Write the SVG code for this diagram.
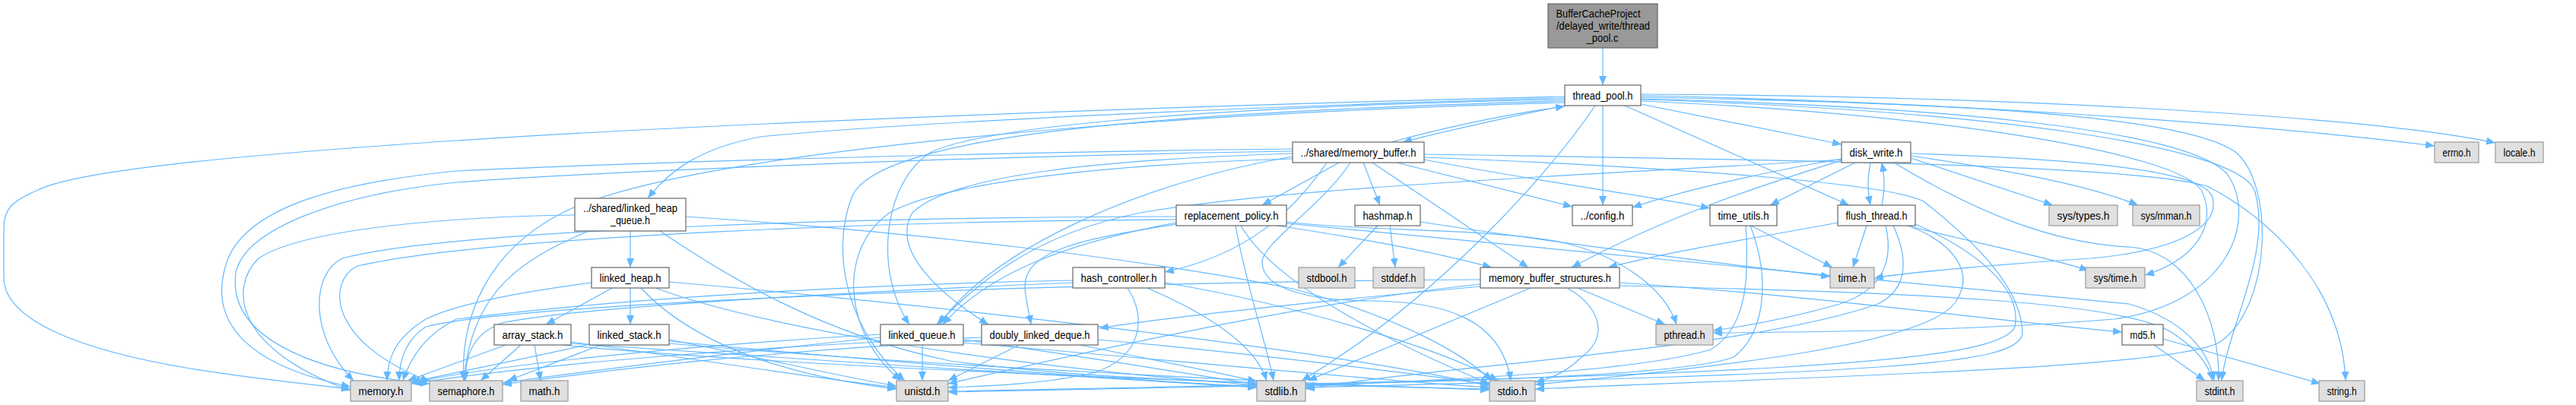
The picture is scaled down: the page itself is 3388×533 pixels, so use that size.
<svg xmlns="http://www.w3.org/2000/svg" width="3388" height="533" viewBox="0 0 3388 533">
<style>
.e{fill:none;stroke:#63b8ff;stroke-width:1.2;marker-end:url(#ah)}
.w{fill:#ffffff;stroke:#666666;stroke-width:1.2}
.g{fill:#e0e0e0;stroke:#999999;stroke-width:1.2}
.r{fill:#999999;stroke:#666666;stroke-width:1.2}
text{font-family:"Liberation Sans",Arial,sans-serif;font-size:14px;fill:#000;text-anchor:middle}
</style>
<defs>
<marker id="ah" viewBox="0 0 12 10" refX="12" refY="5" markerWidth="12" markerHeight="10" markerUnits="userSpaceOnUse" orient="auto"><path d="M0,0 L12,5 L0,10 z" fill="#63b8ff"/></marker>
</defs>
<rect width="3388" height="533" fill="#ffffff"/>
<g id="edges">
<path class="e" d="M2108,63 L2108,112"/>
<path class="e" d="M2062,138 C1990,153 1910,170 1845,187"/>
<path class="e" d="M1830,187 C1900,168 1985,150 2058,140"/>
<path class="e" d="M2108,139 L2108,270"/>
<path class="e" d="M2158,137 L2422,190"/>
<path class="e" d="M2137,139 L2432,270"/>
<path class="e" d="M2098,139 C2030,240 1880,400 1712,501"/>
<path class="e" d="M2158,126 C2500,132 2950,160 3202,192"/>
<path class="e" d="M2158,124 C2600,126 3100,150 3282,188"/>
<path class="e" d="M2058,127 C1500,140 900,165 600,185 C300,205 100,225 50,250 C15,265 5,275 5,300 L5,365 C5,420 100,460 250,485 C330,498 400,505 461,512"/>
<path class="e" d="M2058,129 C1700,138 1200,160 1000,180 C920,195 880,225 852,261"/>
<path class="e" d="M2058,131 C1600,140 1300,165 1225,200 C1160,240 1150,360 1196,427"/>
<path class="e" d="M2058,133 C1500,148 1150,180 1120,260 C1090,340 1120,440 1190,501"/>
<path class="e" d="M2058,135 C1500,150 900,200 740,280 C640,330 605,420 610,501"/>
<path class="e" d="M2158,128 C2550,135 2870,150 2940,200 C2990,240 2990,400 2920,450 C2860,485 2400,495 2019,512"/>
<path class="e" d="M2158,130 C2550,140 2880,170 2930,230 C2970,290 2930,400 2780,420 C2600,435 2400,437 2253,438"/>
<path class="e" d="M2158,131 C2600,145 2940,190 2965,250 C2990,330 2930,430 2922,501"/>
<path class="e" d="M2158,133 C2550,150 2860,200 2895,250 C2920,300 2880,345 2821,362"/>
<path class="e" d="M1761,214 L1660,270"/>
<path class="e" d="M1793,214 L1815,270"/>
<path class="e" d="M1805,214 L2010,352"/>
<path class="e" d="M1837,214 L2068,272"/>
<path class="e" d="M1873,210 C2000,235 2150,255 2249,274"/>
<path class="e" d="M1745,214 C1700,280 1640,335 1532,358"/>
<path class="e" d="M1700,206 C1500,240 1300,330 1236,427"/>
<path class="e" d="M1776,214 C1740,270 1660,320 1660,345 C1660,380 1720,395 1800,396 C1900,396 1975,420 1987,501"/>
<path class="e" d="M1700,196 C1300,200 800,215 600,225 C450,240 330,270 300,340 C270,420 320,480 461,509"/>
<path class="e" d="M1700,199 C1300,205 800,225 600,240 C450,255 320,300 310,360 C300,440 400,490 565,505"/>
<path class="e" d="M1700,209 C1500,215 1250,235 1170,280 C1100,330 1110,440 1185,501"/>
<path class="e" d="M1873,203 C2300,210 2800,215 2903,245 C2990,290 3080,380 3085,501"/>
<path class="e" d="M1873,207 C2200,220 2480,240 2530,265 C2600,320 2660,380 2660,440 C2650,480 2500,490 1717,510"/>
<path class="e" d="M1700,202 C1450,210 1250,230 1200,280 C1170,330 1240,390 1300,427"/>
<path class="e" d="M2460,214 C2456,235 2456,250 2460,270"/>
<path class="e" d="M2475,270 C2479,250 2479,235 2475,214"/>
<path class="e" d="M2440,214 L2328,270"/>
<path class="e" d="M2422,209 C2300,230 2200,255 2147,273"/>
<path class="e" d="M2422,211 C2330,240 2200,280 2067,352"/>
<path class="e" d="M2513,208 L2700,270"/>
<path class="e" d="M2513,205 C2650,225 2750,245 2812,270"/>
<path class="e" d="M2513,202 C2750,210 2900,225 2910,260 C2920,300 2860,330 2750,340 C2600,350 2500,360 2465,366"/>
<path class="e" d="M2422,210 C2100,230 1700,245 1500,280 C1350,310 1280,380 1232,427"/>
<path class="e" d="M2491,214 C2600,280 2700,320 2800,325 C2880,330 2920,420 2918,501"/>
<path class="e" d="M2455,297 L2437,352"/>
<path class="e" d="M2508,297 C2600,320 2700,340 2747,356"/>
<path class="e" d="M2480,297 C2490,340 2480,380 2420,400 C2350,420 2290,430 2253,435"/>
<path class="e" d="M2490,297 C2510,340 2510,380 2470,400 C2300,460 1900,480 1717,512"/>
<path class="e" d="M2510,297 C2570,320 2600,360 2570,400 C2530,450 2300,480 2019,506"/>
<path class="e" d="M2519,295 C2600,330 2660,380 2650,430 C2630,480 2300,495 1247,515"/>
<path class="e" d="M2417,293 C2300,315 2200,330 2115,352"/>
<path class="e" d="M2303,297 L2410,352"/>
<path class="e" d="M2296,297 C2300,360 2300,430 2250,460 C2150,490 1900,500 1717,508"/>
<path class="e" d="M2302,297 C2330,370 2320,440 2280,470 C2200,500 1800,505 1247,516"/>
<path class="e" d="M1812,297 L1760,352"/>
<path class="e" d="M1828,297 L1835,352"/>
<path class="e" d="M1868,292 C2050,320 2250,345 2407,364"/>
<path class="e" d="M1680,297 C1800,315 1900,335 1962,352"/>
<path class="e" d="M1547,295 C1420,315 1345,330 1348,380 C1350,400 1354,415 1356,427"/>
<path class="e" d="M1547,293 C1400,320 1300,360 1240,427"/>
<path class="e" d="M1625,297 C1640,380 1665,450 1675,501"/>
<path class="e" d="M1632,297 C1680,380 1850,460 1959,505"/>
<path class="e" d="M1692,292 C1800,305 1950,300 2050,318 C2130,335 2190,380 2205,427"/>
<path class="e" d="M1692,294 C2100,330 2500,370 2800,400 C2870,420 2905,460 2912,501"/>
<path class="e" d="M1547,285 C1200,285 600,300 450,340 C410,360 405,440 465,501"/>
<path class="e" d="M1547,289 C1200,290 650,310 470,350 C430,370 430,450 565,502"/>
<path class="e" d="M829,304 L829,352"/>
<path class="e" d="M774,304 C690,340 620,380 610,501"/>
<path class="e" d="M756,283 C600,285 400,300 340,340 C300,380 310,460 461,514"/>
<path class="e" d="M868,304 C950,360 1080,440 1250,475 C1400,495 1550,500 1653,504"/>
<path class="e" d="M902,285 C1200,305 1500,340 1700,380 C1850,420 1930,470 1962,501"/>
<path class="e" d="M805,379 L718,427"/>
<path class="e" d="M829,379 L829,427"/>
<path class="e" d="M778,372 C680,385 600,400 560,420 C520,445 510,470 509,501"/>
<path class="e" d="M843,379 C900,440 1000,490 1179,512"/>
<path class="e" d="M862,379 C1000,430 1300,480 1653,507"/>
<path class="e" d="M880,371 C1100,390 1700,450 1959,508"/>
<path class="e" d="M665,454 L536,501"/>
<path class="e" d="M685,454 L632,501"/>
<path class="e" d="M703,454 L711,501"/>
<path class="e" d="M751,450 C900,470 1050,495 1179,510"/>
<path class="e" d="M751,452 C1000,470 1400,495 1653,510"/>
<path class="e" d="M740,454 C1000,480 1600,505 1959,512"/>
<path class="e" d="M790,454 L668,501"/>
<path class="e" d="M780,452 C700,470 600,490 541,503"/>
<path class="e" d="M880,447 C1000,470 1100,495 1179,508"/>
<path class="e" d="M880,449 C1100,470 1400,495 1653,509"/>
<path class="e" d="M880,452 C1200,480 1700,505 1959,513"/>
<path class="e" d="M1213,454 L1213,501"/>
<path class="e" d="M1158,440 C900,455 650,480 541,504"/>
<path class="e" d="M1158,444 C1000,460 800,485 661,504"/>
<path class="e" d="M1267,447 C1400,465 1550,490 1653,506"/>
<path class="e" d="M1267,451 C1500,470 1800,500 1959,510"/>
<path class="e" d="M1340,454 L1247,501"/>
<path class="e" d="M1420,454 C1500,470 1600,490 1653,502"/>
<path class="e" d="M1444,447 C1600,460 1850,490 1959,506"/>
<path class="e" d="M1291,444 C1000,455 700,480 541,505"/>
<path class="e" d="M1291,448 C1000,462 800,487 661,506"/>
<path class="e" d="M1483,379 C1510,420 1500,470 1440,490 C1380,505 1300,508 1247,510"/>
<path class="e" d="M1509,379 C1580,410 1650,450 1666,501"/>
<path class="e" d="M1532,372 C1700,400 1900,460 1970,501"/>
<path class="e" d="M1411,369 C1100,375 800,395 600,420 C560,440 540,470 530,501"/>
<path class="e" d="M1411,372 C1100,385 750,405 660,425 C620,440 612,470 612,501"/>
<path class="e" d="M2075,379 L2190,427"/>
<path class="e" d="M2061,379 C2100,400 2120,440 2080,470 C2060,490 2040,498 2019,503"/>
<path class="e" d="M2013,379 L1720,501"/>
<path class="e" d="M1947,374 C1700,400 1400,470 1247,505"/>
<path class="e" d="M2130,372 C2400,390 2600,420 2791,437"/>
<path class="e" d="M2130,376 C2500,385 2800,395 2860,440 C2890,460 2905,480 2910,501"/>
<path class="e" d="M1947,377 C1750,395 1550,415 1446,432"/>
<path class="e" d="M1947,368 C1500,370 700,395 560,430 C530,450 525,480 525,501"/>
<path class="e" d="M2833,454 L2900,501"/>
<path class="e" d="M2845,446 L3052,505"/>
</g>
<g id="n_root"><rect class="r" x="2036" y="5" width="144" height="58"/><text x="2102" y="23" textLength="111" lengthAdjust="spacingAndGlyphs">BufferCacheProject</text><text x="2108.5" y="39" textLength="123" lengthAdjust="spacingAndGlyphs">/delayed_write/thread</text><text x="2107.5" y="55" textLength="42" lengthAdjust="spacingAndGlyphs">_pool.c</text></g>
<g id="n_thread_pool"><rect class="w" x="2058" y="112" width="100" height="27"/><text x="2108" y="130.5" textLength="79" lengthAdjust="spacingAndGlyphs">thread_pool.h</text></g>
<g id="n_memory_buffer"><rect class="w" x="1700" y="187" width="173" height="27"/><text x="1786.5" y="205.5" textLength="152" lengthAdjust="spacingAndGlyphs">../shared/memory_buffer.h</text></g>
<g id="n_disk_write"><rect class="w" x="2422" y="187" width="91" height="27"/><text x="2467.5" y="205.5" textLength="70" lengthAdjust="spacingAndGlyphs">disk_write.h</text></g>
<g id="n_errno"><rect class="g" x="3202" y="187" width="58" height="27"/><text x="3231" y="205.5" textLength="37" lengthAdjust="spacingAndGlyphs">errno.h</text></g>
<g id="n_locale"><rect class="g" x="3282" y="187" width="63" height="27"/><text x="3313.5" y="205.5" textLength="42" lengthAdjust="spacingAndGlyphs">locale.h</text></g>
<g id="n_linked_heap_queue"><rect class="w" x="756" y="261" width="146" height="43"/><text x="829" y="279" textLength="124" lengthAdjust="spacingAndGlyphs">../shared/linked_heap</text><text x="829" y="295" textLength="52" lengthAdjust="spacingAndGlyphs">_queue.h</text></g>
<g id="n_replacement_policy"><rect class="w" x="1547" y="270" width="145" height="27"/><text x="1619.5" y="288.5" textLength="124" lengthAdjust="spacingAndGlyphs">replacement_policy.h</text></g>
<g id="n_hashmap"><rect class="w" x="1782" y="270" width="86" height="27"/><text x="1825" y="288.5" textLength="65" lengthAdjust="spacingAndGlyphs">hashmap.h</text></g>
<g id="n_config"><rect class="w" x="2068" y="270" width="79" height="27"/><text x="2107.5" y="288.5" textLength="58" lengthAdjust="spacingAndGlyphs">../config.h</text></g>
<g id="n_time_utils"><rect class="w" x="2249" y="270" width="88" height="27"/><text x="2293" y="288.5" textLength="67" lengthAdjust="spacingAndGlyphs">time_utils.h</text></g>
<g id="n_flush_thread"><rect class="w" x="2417" y="270" width="102" height="27"/><text x="2468" y="288.5" textLength="81" lengthAdjust="spacingAndGlyphs">flush_thread.h</text></g>
<g id="n_sys_types"><rect class="g" x="2695" y="270" width="90" height="27"/><text x="2740" y="288.5" textLength="69" lengthAdjust="spacingAndGlyphs">sys/types.h</text></g>
<g id="n_sys_mman"><rect class="g" x="2805" y="270" width="88" height="27"/><text x="2849" y="288.5" textLength="67" lengthAdjust="spacingAndGlyphs">sys/mman.h</text></g>
<g id="n_linked_heap"><rect class="w" x="778" y="352" width="102" height="27"/><text x="829" y="370.5" textLength="81" lengthAdjust="spacingAndGlyphs">linked_heap.h</text></g>
<g id="n_hash_controller"><rect class="w" x="1411" y="352" width="121" height="27"/><text x="1471.5" y="370.5" textLength="100" lengthAdjust="spacingAndGlyphs">hash_controller.h</text></g>
<g id="n_stdbool"><rect class="g" x="1708" y="352" width="74" height="27"/><text x="1745" y="370.5" textLength="53" lengthAdjust="spacingAndGlyphs">stdbool.h</text></g>
<g id="n_stddef"><rect class="g" x="1806" y="352" width="67" height="27"/><text x="1839.5" y="370.5" textLength="46" lengthAdjust="spacingAndGlyphs">stddef.h</text></g>
<g id="n_memory_buffer_structures"><rect class="w" x="1947" y="352" width="183" height="27"/><text x="2038.5" y="370.5" textLength="161" lengthAdjust="spacingAndGlyphs">memory_buffer_structures.h</text></g>
<g id="n_time"><rect class="g" x="2407" y="352" width="58" height="27"/><text x="2436" y="370.5" textLength="37" lengthAdjust="spacingAndGlyphs">time.h</text></g>
<g id="n_sys_time"><rect class="g" x="2743" y="352" width="78" height="27"/><text x="2782" y="370.5" textLength="57" lengthAdjust="spacingAndGlyphs">sys/time.h</text></g>
<g id="n_array_stack"><rect class="w" x="650" y="427" width="101" height="27"/><text x="700.5" y="445.5" textLength="80" lengthAdjust="spacingAndGlyphs">array_stack.h</text></g>
<g id="n_linked_stack"><rect class="w" x="775" y="427" width="105" height="27"/><text x="827.5" y="445.5" textLength="84" lengthAdjust="spacingAndGlyphs">linked_stack.h</text></g>
<g id="n_linked_queue"><rect class="w" x="1158" y="427" width="109" height="27"/><text x="1212.5" y="445.5" textLength="88" lengthAdjust="spacingAndGlyphs">linked_queue.h</text></g>
<g id="n_doubly_linked_deque"><rect class="w" x="1291" y="427" width="153" height="27"/><text x="1367.5" y="445.5" textLength="132" lengthAdjust="spacingAndGlyphs">doubly_linked_deque.h</text></g>
<g id="n_pthread"><rect class="g" x="2178" y="427" width="75" height="27"/><text x="2215.5" y="445.5" textLength="54" lengthAdjust="spacingAndGlyphs">pthread.h</text></g>
<g id="n_md5"><rect class="w" x="2791" y="427" width="54" height="27"/><text x="2818" y="445.5" textLength="33" lengthAdjust="spacingAndGlyphs">md5.h</text></g>
<g id="n_memory"><rect class="g" x="461" y="501" width="80" height="27"/><text x="501" y="519.5" textLength="59" lengthAdjust="spacingAndGlyphs">memory.h</text></g>
<g id="n_semaphore"><rect class="g" x="565" y="501" width="96" height="27"/><text x="613" y="519.5" textLength="75" lengthAdjust="spacingAndGlyphs">semaphore.h</text></g>
<g id="n_math"><rect class="g" x="685" y="501" width="62" height="27"/><text x="716" y="519.5" textLength="41" lengthAdjust="spacingAndGlyphs">math.h</text></g>
<g id="n_unistd"><rect class="g" x="1179" y="501" width="68" height="27"/><text x="1213" y="519.5" textLength="47" lengthAdjust="spacingAndGlyphs">unistd.h</text></g>
<g id="n_stdlib"><rect class="g" x="1653" y="501" width="64" height="27"/><text x="1685" y="519.5" textLength="43" lengthAdjust="spacingAndGlyphs">stdlib.h</text></g>
<g id="n_stdio"><rect class="g" x="1959" y="501" width="60" height="27"/><text x="1989" y="519.5" textLength="39" lengthAdjust="spacingAndGlyphs">stdio.h</text></g>
<g id="n_stdint"><rect class="g" x="2889" y="501" width="61" height="27"/><text x="2919.5" y="519.5" textLength="40" lengthAdjust="spacingAndGlyphs">stdint.h</text></g>
<g id="n_string"><rect class="g" x="3050" y="501" width="60" height="27"/><text x="3080" y="519.5" textLength="39" lengthAdjust="spacingAndGlyphs">string.h</text></g>
</svg>
